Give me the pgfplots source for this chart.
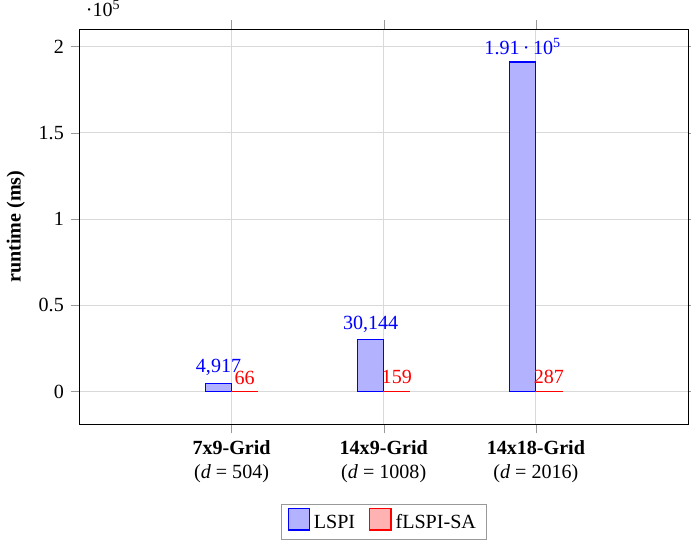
\documentclass[border=0pt]{standalone}
\usepackage{fontspec}
\setmainfont{Liberation Serif}
\usepackage{pgfplots}
\pgfplotsset{compat=1.18}
\begin{document}
\begin{tikzpicture}
\begin{axis}[
  scale only axis,
  width=303pt, height=197pt,
  ybar=0pt, bar width=13pt,
  xmin=0, xmax=4,
  ymin=-19100, ymax=210100,
  xtick={1,2,3},
  xticklabels={{\textbf{7x9-Grid}\\(\textit{d} = 504)},
               {\textbf{14x9-Grid}\\(\textit{d} = 1008)},
               {\textbf{14x18-Grid}\\(\textit{d} = 2016)}},
  xticklabel style={align=center},
  ytick={0,50000,100000,150000,200000},
  /pgf/number format/assume math mode=true,
  ytick scale label code/.code={·10\textsuperscript{#1}},
  ylabel={\textbf{runtime (ms)}},
  grid=major,
  grid style={gray!30},
  tick align=outside,
  major tick style={gray!80},
  point meta=explicit symbolic,
  nodes near coords,
  legend style={at={(0.5,-0.2)}, anchor=north, legend columns=-1,
    draw=gray!80, /tikz/every even column/.append style={column sep=5pt}},
  legend image code/.code={\draw[#1] (0cm,-0.12cm) rectangle (0.37cm,0.25cm);},
]
\addplot[draw=blue, fill=blue!30, line width=0.6pt, every node near coord/.append style={text=blue}]
  coordinates {(1,4917) [4{,}917] (2,30144) [30{,}144] (3,191000) [1.91\,·\,10\textsuperscript{5}]};
\addplot[draw=red, fill=red!30, line width=0.6pt, every node near coord/.append style={text=red}]
  coordinates {(1,66) [66] (2,159) [159] (3,287) [287]};
\legend{LSPI, fLSPI-SA}
\end{axis}
% keep only a sliver to the right of the axis frame
\path (current bounding box.south west) coordinate (bbsw)
      (current bounding box.north) coordinate (bbn);
\pgfresetboundingbox
\path[use as bounding box] (bbsw) rectangle ([xshift=1.5pt]current axis.east |- bbn);
\end{tikzpicture}
\end{document}
